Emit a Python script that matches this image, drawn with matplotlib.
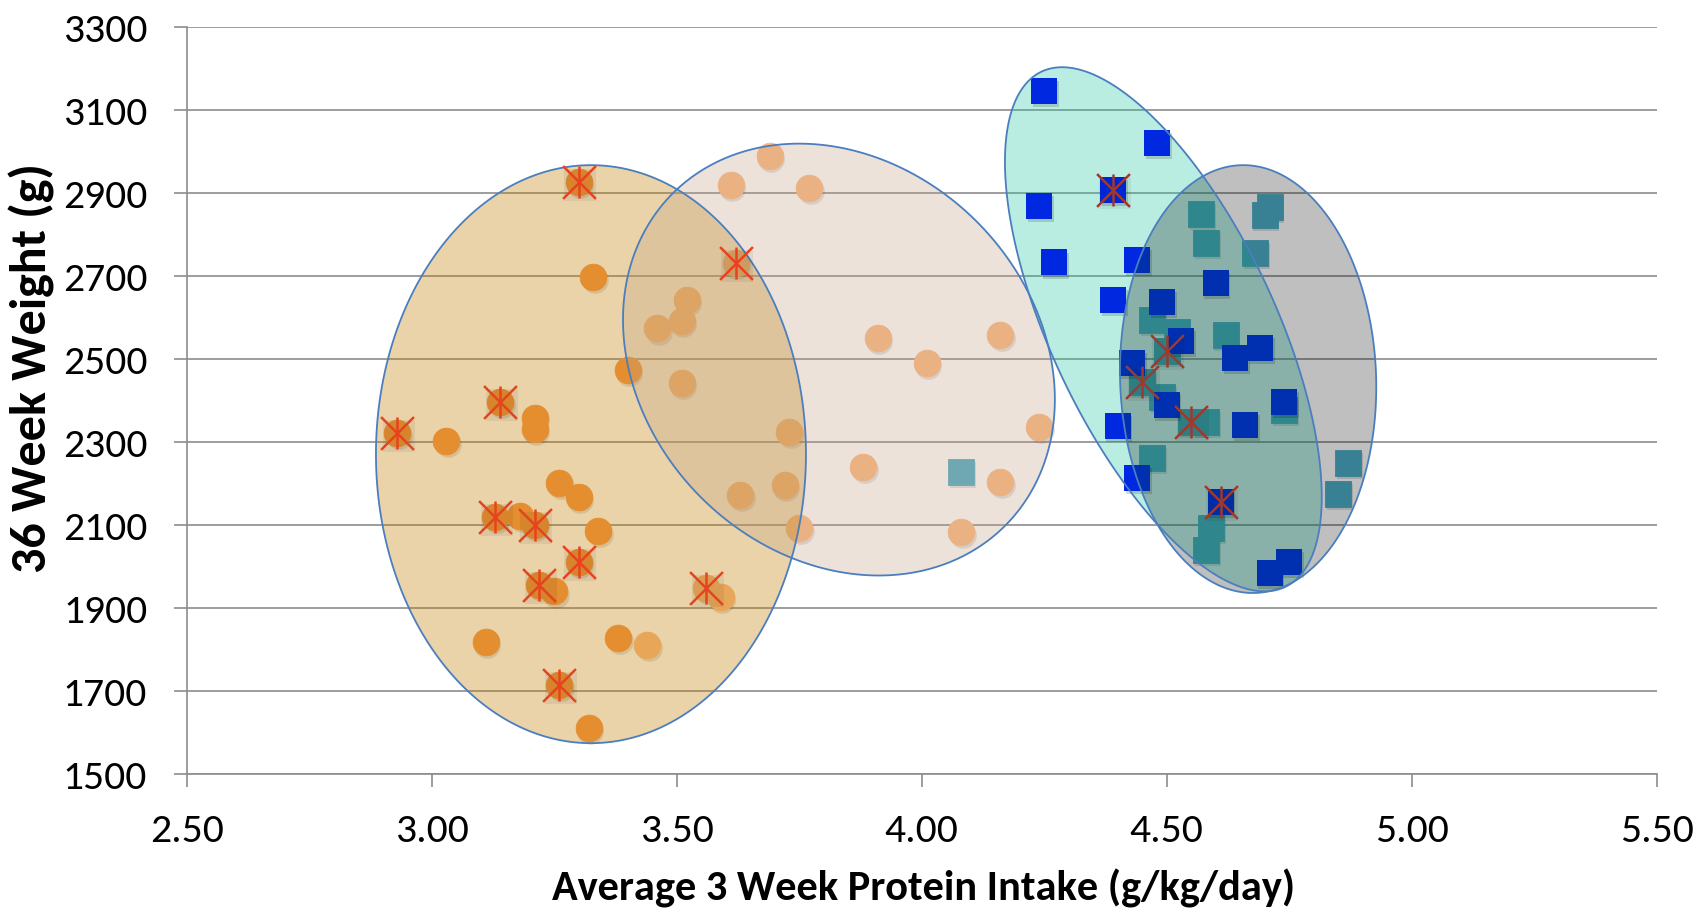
import numpy as np
import matplotlib.pyplot as plt
from matplotlib.patches import Polygon
from matplotlib import transforms
from matplotlib import font_manager as fm

# Darker orange circles (left cluster)
orange_x = [3.30, 3.33, 3.40, 2.93, 3.03, 3.14, 3.21, 3.21, 3.26, 3.30, 3.13,
            3.18, 3.21, 3.34, 3.30, 3.22, 3.25, 3.11, 3.38, 3.26, 3.32]
orange_y = [2926, 2698, 2474, 2323, 2303, 2396, 2359, 2331, 2201, 2168, 2120,
            2122, 2100, 2086, 2010, 1956, 1940, 1819, 1829, 1715, 1610]

# Lighter orange circles
peach_x = [3.69, 3.61, 3.77, 3.62, 3.52, 3.51, 3.46, 3.51, 3.91, 4.01, 4.16,
           4.24, 3.73, 3.88, 4.16, 3.72, 3.63, 3.75, 4.08, 3.56, 3.59, 3.44]
peach_y = [2989, 2919, 2912, 2731, 2642, 2592, 2574, 2442, 2552, 2491, 2558,
           2337, 2325, 2241, 2205, 2197, 2173, 2092, 2084, 1948, 1926, 1811]

# Blue squares
blue_x = [4.25, 4.48, 4.39, 4.24, 4.27, 4.44, 4.39, 4.60, 4.49, 4.53, 4.69,
          4.64, 4.43, 4.50, 4.66, 4.40, 4.74, 4.44, 4.61, 4.71, 4.75]
blue_y = [3147, 3020, 2907, 2869, 2733, 2740, 2642, 2684, 2638, 2544, 2526,
          2502, 2491, 2389, 2341, 2339, 2397, 2213, 2156, 1984, 2012]

# Teal squares
teal_x = [4.57, 4.58, 4.71, 4.70, 4.68, 4.47, 4.62, 4.52, 4.50, 4.45, 4.49,
          4.55, 4.58, 4.74, 4.47, 4.87, 4.85, 4.59, 4.58, 4.08]
teal_y = [2851, 2780, 2867, 2847, 2755, 2594, 2558, 2566, 2519, 2446, 2409,
          2349, 2349, 2377, 2261, 2249, 2174, 2092, 2040, 2227]

# Points flagged with an asterisk
flag_warm_x = [3.30, 2.93, 3.14, 3.13, 3.21, 3.30, 3.22, 3.26, 3.62, 3.56]
flag_warm_y = [2926, 2323, 2396, 2120, 2100, 2010, 1956, 1715, 2731, 1948]
flag_cool_x = [4.39, 4.61, 4.50, 4.45, 4.55]
flag_cool_y = [2907, 2156, 2519, 2446, 2349]

x_ticks = [2.50, 3.00, 3.50, 4.00, 4.50, 5.00, 5.50]
y_ticks = [1500, 1700, 1900, 2100, 2300, 2500, 2700, 2900, 3100, 3300]

# Group ellipses: centre (data), semi-axes (pixels), angle (deg)
ell_center = [(3.325, 2271), (3.831, 2499), (4.666, 2452), (4.493, 2572)]
ell_axes = [(289, 215), (235, 195), (214, 128), (285, 112)]
ell_angle = [90, -45, 92, 115.3]
ell_face = [("#C38109", 0.35), ("#C3A284", 0.30), ("#000000", 0.25), ("#26C7A5", 0.32)]

# Calibri look-alike if present, else Lato
names = {f.name for f in fm.fontManager.ttflist}
if "Carlito" in names:
    tick_font, tick_size = "Carlito", 30
    lab_font, xlab_size, ylab_size = "Carlito", 30.5, 36
else:
    tick_font, tick_size = "Lato", 26
    lab_font, xlab_size, ylab_size = "Lato", 24, 28

fig = plt.figure(figsize=(17, 9.09), dpi=100)
ax = fig.add_axes([0.1098, 0.1485, 0.8648, 0.8215])
ax.set_xlim(2.5, 5.5)
ax.set_ylim(1500, 3300)

grey = "#8C8C8C"
ax.set_xticks(x_ticks)
ax.set_yticks(y_ticks)
ax.set_xticklabels([f"{v:.2f}" for v in x_ticks])
ax.set_yticklabels([str(v) for v in y_ticks])
ax.tick_params(direction="out", length=9.4, width=1.2, color=grey,
               labelsize=tick_size, labelcolor="black")
ax.tick_params(axis="y", pad=19)
ax.tick_params(axis="x", pad=19)
for lab in ax.get_xticklabels() + ax.get_yticklabels():
    lab.set_family(tick_font)
for s in ["top", "right"]:
    ax.spines[s].set_visible(False)
for s in ["left", "bottom"]:
    ax.spines[s].set_color(grey)
    ax.spines[s].set_linewidth(1.2)
ax.yaxis.grid(True, color=grey, linewidth=1.2)
ax.set_axisbelow(True)

# pixel scale of one data unit
p0 = ax.transData.transform((0, 0))
sx = ax.transData.transform((1, 0))[0] - p0[0]
sy = ax.transData.transform((0, 1))[1] - p0[1]


def ellipse_xy(c, ab, ang):
    t = np.linspace(0, 2 * np.pi, 400)
    th = np.radians(ang)
    a, b = ab
    px = a * np.cos(t) * np.cos(th) - b * np.sin(t) * np.sin(th)
    py = a * np.cos(t) * np.sin(th) + b * np.sin(t) * np.cos(th)
    return np.column_stack([c[0] + px / sx, c[1] + py / sy])


shadow = transforms.offset_copy(ax.transData, fig=fig, x=1.2, y=-2.2, units="points")
msize = 370

# markers that sit under the translucent ellipses
for xs, ys, col, mk in [(orange_x, orange_y, "#F79646", "o"),
                        (peach_x, peach_y, "#FCBA83", "o"),
                        (teal_x, teal_y, "#4BACC6", "s")]:
    ax.scatter(xs, ys, s=msize, marker=mk, color="black", alpha=0.12,
               linewidths=0, transform=shadow, zorder=2)
    ax.scatter(xs, ys, s=msize, marker=mk, facecolor=col, edgecolor=col,
               linewidths=0.6, zorder=2.5)

zs = [3, 4, 6, 4]
polys = []
for c, ab, ang, (fc, al), z in zip(ell_center, ell_axes, ell_angle, ell_face, zs):
    pts = ellipse_xy(c, ab, ang)
    ax.add_patch(Polygon(pts, closed=True, facecolor=fc, alpha=al,
                         edgecolor="none", zorder=z))
    polys.append(pts)

# blue squares ride above the cyan ellipse, darker where the grey one covers them
ax.scatter(blue_x, blue_y, s=msize, marker="s", color="black", alpha=0.15,
           linewidths=0, transform=shadow, zorder=4.5)
ax.scatter(blue_x, blue_y, s=msize, marker="s", color="#0028E0", linewidths=0, zorder=5)
dark = ax.scatter(blue_x, blue_y, s=msize, marker="s", color="#0030B0",
                  linewidths=0, zorder=6.5)
dark.set_clip_path(Polygon(polys[2], closed=True, transform=ax.transData))

for pts in polys:
    ax.add_patch(Polygon(pts, closed=True, facecolor="none", edgecolor="#4A7EBF",
                         linewidth=1.3, zorder=7))

# asterisk flags
for xs, ys, col in [(flag_warm_x, flag_warm_y, "#E8421E"),
                    (flag_cool_x, flag_cool_y, "#A0392D")]:
    ax.scatter(xs, ys, s=540, marker="s", color="black", alpha=0.06,
               linewidths=0, transform=shadow, zorder=7.5)
    ax.scatter(xs, ys, s=560, marker="x", color=col, linewidths=1.8, zorder=8)
    ax.scatter(xs, ys, s=560, marker="|", color=col, linewidths=1.8, zorder=8)

fig.text(0.5434, 0.0095, "Average 3 Week Protein Intake (g/kg/day)",
         family=lab_font, weight="bold", fontsize=xlab_size,
         ha="center", va="baseline")
fig.text(0.0185, 0.595, "36 Week Weight (g)", family=lab_font,
         weight="bold", fontsize=ylab_size, rotation=90, ha="center", va="center")

fig.savefig("out.png", dpi=100)
